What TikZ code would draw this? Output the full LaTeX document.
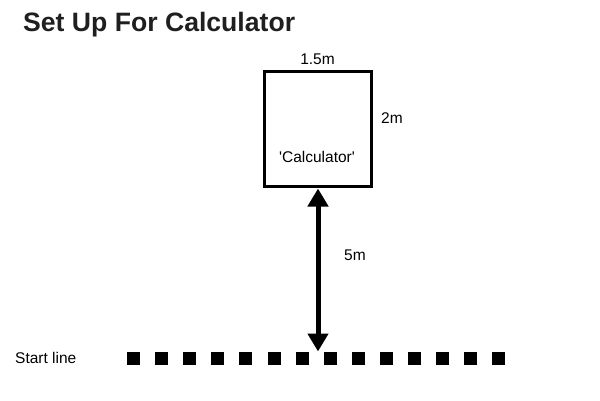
\documentclass[tikz,border=0pt]{standalone}
\usepackage{fontspec}
\setmainfont{Liberation Sans}
\usetikzlibrary{arrows.meta,positioning}

\begin{document}
\begin{tikzpicture}[
    x=1pt, y=-1pt,
    label/.style={font=\fontsize{15.5}{18}\selectfont, inner sep=0pt},
    title/.style={font=\fontsize{26.6}{30}\selectfont\bfseries, text=black!88, inner sep=0pt, anchor=west},
    station/.style={draw, line width=3pt, minimum width=107pt, minimum height=115pt, inner sep=0pt},
    measure/.style={{Triangle[length=18pt,width=20pt]}-{Triangle[length=18pt,width=20pt]}, line width=5pt},
    startline/.style={line width=13pt, dash pattern=on 13pt off 15.1pt}
]
\useasboundingbox (0,0) rectangle (600,400);

% Title
\node[title] (title) at (23,25) {Set Up For Calculator};

% Calculator box and its sizes
\node[station] (calc) at (317.5,128.5) {};
\node[label] (calcname) at (317,157) {\textquotesingle Calculator\textquotesingle};
\node[label, above=5pt of calc] (calcwidth) {1.5m};
\node[label] (calcheight) at (392,118) {2m};

% Start line
\node[label, anchor=west] (startlabel) at (15,358) {Start line};
\coordinate (linestart) at (127,358.3);
\coordinate (lineend) at (506,358.3);
\draw[startline] (linestart) -- (lineend);

% Distance from start line to box
\coordinate (arrowend) at (318,351.5);
\draw[measure] ([yshift=-1pt]calc.south -| arrowend) -- (arrowend);
\node[label] (distance) at (355,255) {5m};

\end{tikzpicture}
\end{document}
